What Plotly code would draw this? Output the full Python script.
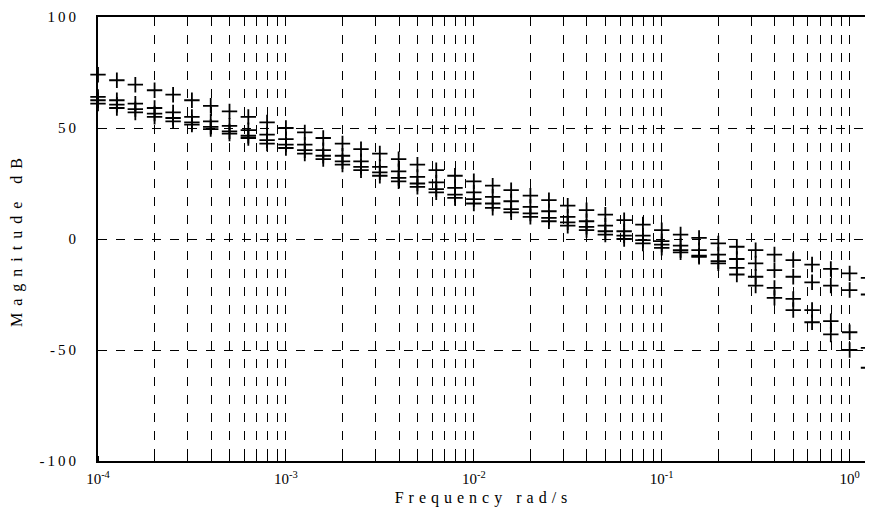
import plotly.graph_objects as go

# Frequencies (rad/s), 10 points per decade
freq = [1.00e-4, 1.26e-4, 1.58e-4, 2.00e-4, 2.51e-4, 3.16e-4, 3.98e-4, 5.01e-4, 6.31e-4, 7.94e-4,
        1.00e-3, 1.26e-3, 1.58e-3, 2.00e-3, 2.51e-3, 3.16e-3, 3.98e-3, 5.01e-3, 6.31e-3, 7.94e-3,
        1.00e-2, 1.26e-2, 1.58e-2, 2.00e-2, 2.51e-2, 3.16e-2, 3.98e-2, 5.01e-2, 6.31e-2, 7.94e-2,
        1.00e-1, 1.26e-1, 1.58e-1, 2.00e-1, 2.51e-1, 3.16e-1, 3.98e-1, 5.01e-1, 6.31e-1, 7.94e-1,
        1.00, 1.26]

# Magnitude (dB)
mag_a = [74, 71.5, 69.5, 67, 65, 62.5, 60, 57.5, 55, 52.5,
         50, 48, 45.5, 43, 40.5, 38.5, 36, 33.5, 31, 28.5,
         26, 24, 22, 19.5, 17.5, 15, 13, 11, 8.5, 6.5,
         4, 2, 0.5, -2, -3.5, -5, -7, -9.5, -11.5, -13.5,
         -15.5, -17.5]
mag_b = [64, 62.5, 61, 59, 57, 55, 53, 51, 49, 47,
         45, 42.5, 40, 37.5, 35, 32.5, 30.5, 28, 25.5, 23,
         21, 19, 17, 14.5, 12.5, 10, 8, 6, 3.5, 1.5,
         -1, -3, -5, -7, -9, -11, -14, -17, -19.5, -21,
         -23, -25]
mag_c = [61, 59, 57, 55, 53, 51.5, 49.5, 47.5, 45.5, 43,
         41, 38.5, 36, 33.5, 31, 28.5, 26, 23.5, 21, 18.5,
         16, 14, 12, 10, 8, 6, 4, 2, 0, -2,
         -4, -6, -8, -10, -13, -17, -22, -27, -32, -37,
         -42, -49]
mag_d = [62.5, 60.5, 58.5, 56.5, 54.5, 52.5, 50.5, 48.5, 46.5, 44.5,
         42.5, 40, 37.5, 35, 32.5, 30, 27.5, 25, 22.5, 20,
         18, 16, 13.5, 11.5, 9.5, 7.5, 5.5, 3.5, 1.5, -0.5,
         -2.5, -5, -7.5, -11, -16, -21, -26.5, -32, -37.5, -43,
         -50, -58]

x_tick_vals = [1e-4, 1e-3, 1e-2, 1e-1, 1]
x_tick_text = ["10<sup>-4</sup>", "10<sup>-3</sup>", "10<sup>-2</sup>", "10<sup>-1</sup>", "10<sup>0</sup>"]
y_tick_vals = [-100, -50, 0, 50, 100]
y_tick_text = ['<span style="letter-spacing:3px">%d</span>' % v for v in y_tick_vals]

x_title = "Frequency rad/s"
y_title = "Magnitude dB"

fig = go.Figure()
for ys in (mag_a, mag_b, mag_c, mag_d):
    fig.add_trace(go.Scatter(
        x=freq, y=ys, mode="markers",
        marker=dict(symbol="cross-thin", size=11, color="black",
                    line=dict(width=1.8, color="black")),
        showlegend=False, cliponaxis=False))

# the page body adds an 8px offset, so the figure is sized to fit the window
fig.update_layout(
    width=865, height=501,
    margin=dict(l=90, r=4, t=9, b=48),
    paper_bgcolor="white", plot_bgcolor="white",
    font=dict(family="Liberation Serif", color="black", size=15),
)
fig.update_xaxes(
    type="log", range=[-4, 0.103], automargin=False,
    tickvals=x_tick_vals, ticktext=x_tick_text,
    showgrid=True, gridcolor="black", griddash="dash", gridwidth=1.2,
    showline=True, linecolor="black", linewidth=2, mirror=True,
    ticks="", zeroline=False, ticklabelstandoff=3,
    minor=dict(dtick="D1", showgrid=True, gridcolor="black", griddash="dash",
               gridwidth=1.2, ticks="inside", ticklen=5, tickcolor="black"),
    title=dict(text='<span style="letter-spacing:5px">%s</span>' % x_title,
               font=dict(size=16), standoff=6),
)
fig.update_yaxes(
    range=[-100, 100], automargin=False,
    tickvals=y_tick_vals, ticktext=y_tick_text,
    showgrid=True, gridcolor="black", griddash="dash", gridwidth=1.2,
    showline=True, linecolor="black", linewidth=2, mirror=False,
    ticks="", zeroline=False, ticklabelstandoff=14,
    title=dict(text='<span style="letter-spacing:7px">%s</span>' % y_title,
               font=dict(size=16), standoff=16),
)

fig.write_html("out.html")
